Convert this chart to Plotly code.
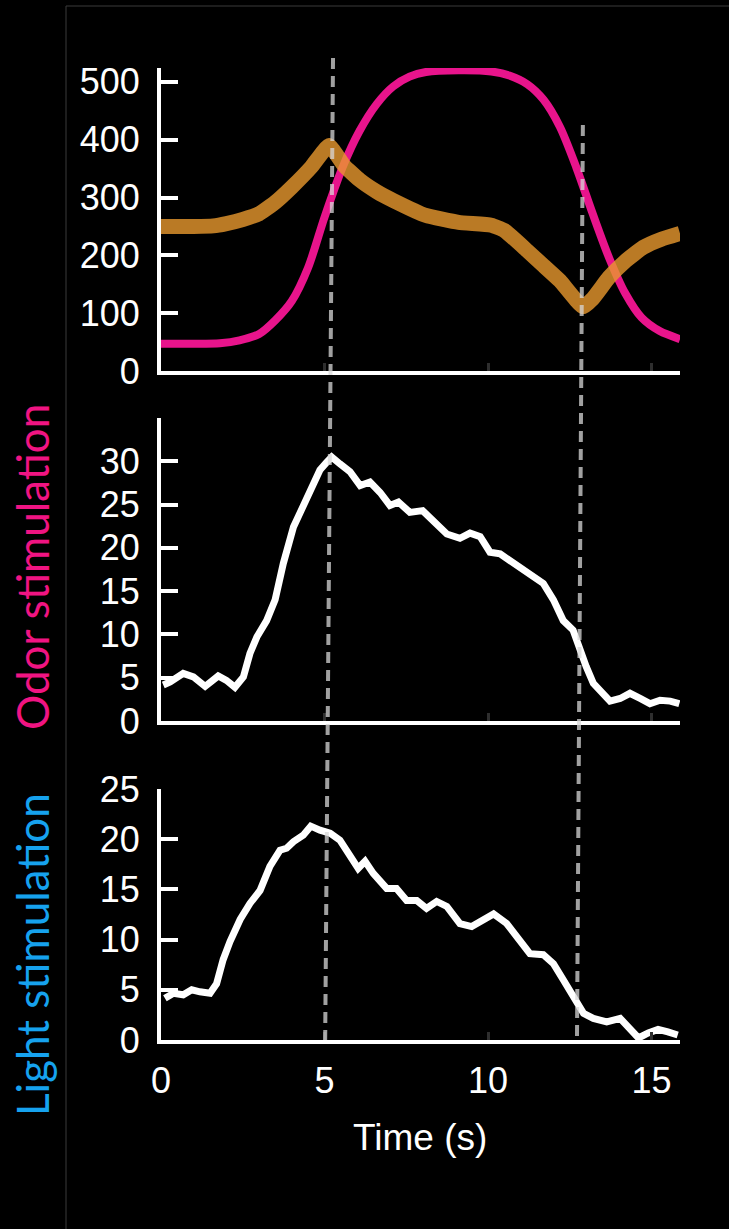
import plotly.graph_objects as go

# ---------------- data ----------------
# Top panel: stimulus traces
mag_t = [0.0, 1.0, 1.8, 2.4, 3.0, 3.5, 4.0, 4.5, 5.0, 5.55, 6.07, 6.6, 7.1, 7.6, 8.1, 9.1,
         10.1, 10.65, 11.2, 11.7, 12.2, 12.7, 13.2, 13.7, 14.2, 14.7, 15.25, 15.87]
mag_v = [47, 47, 48, 53, 64, 88, 121, 179, 266, 352, 415, 462, 492, 509, 517, 520,
         518, 511, 496, 469, 422, 352, 272, 196, 134, 92, 69, 55]

org_t = [0.0, 1.0, 1.6, 2.0, 2.5, 3.0, 3.5, 4.0, 4.6, 5.14, 5.6, 6.08, 6.6, 7.1, 8.1, 9.1,
         10.1, 10.5, 11.2, 11.7, 12.2, 12.9, 13.2, 13.7, 14.2, 14.75, 15.3, 15.87]
org_v = [250, 250, 251, 255, 262, 272, 292, 318, 353, 390, 355, 330, 310, 295, 269, 257,
         252, 243, 208, 182, 156, 111, 125, 162, 190, 214, 228, 238]

# Middle panel: odor stimulation response
odor_t = [0.07, 0.28, 0.68, 0.99, 1.35, 1.75, 2.0, 2.26, 2.52, 2.72, 2.93, 3.23, 3.49, 3.74,
          4.05, 4.35, 4.56, 4.86, 5.07, 5.22, 5.47, 5.78, 6.09, 6.39, 6.7, 7.0, 7.26, 7.61,
          8.0, 8.33, 8.74, 9.14, 9.45, 9.76, 10.06, 10.37, 10.78, 11.28, 11.69, 12.0, 12.3,
          12.6, 12.8, 13.0, 13.22, 13.43, 13.73, 14.04, 14.34, 14.65, 14.95, 15.26, 15.57, 15.85]
odor_v = [4.15, 4.5, 5.5, 5.1, 4.0, 5.2, 4.7, 3.9, 5.1, 7.8, 9.7, 11.6, 14.0, 18.2,
          22.4, 24.7, 26.3, 29.0, 29.9, 30.5, 29.7, 28.8, 27.2, 27.6, 26.4, 24.9, 25.3, 24.1,
          24.3, 23.2, 21.6, 21.1, 21.7, 21.3, 19.5, 19.3, 18.2, 17.0, 15.9, 14.0, 11.6,
          10.5, 8.2, 6.3, 4.35, 3.6, 2.3, 2.6, 3.2, 2.6, 2.0, 2.4, 2.3, 2.0]

# Bottom panel: light stimulation response
light_t = [0.12, 0.38, 0.68, 0.94, 1.19, 1.5, 1.7, 1.9, 2.11, 2.42, 2.72, 3.03, 3.33, 3.64,
           3.84, 4.05, 4.35, 4.58, 4.86, 5.17, 5.47, 5.78, 6.03, 6.24, 6.49, 6.9, 7.2, 7.51,
           7.82, 8.12, 8.43, 8.74, 9.14, 9.5, 9.86, 10.17, 10.57, 10.98, 11.28, 11.69, 12.0,
           12.3, 12.6, 12.92, 13.22, 13.63, 14.04, 14.34, 14.6, 14.9, 15.2, 15.5, 15.8]
light_v = [4.15, 4.65, 4.5, 5.0, 4.8, 4.65, 5.6, 8.0, 9.8, 12.0, 13.6, 14.9, 17.3, 18.9,
           19.1, 19.75, 20.4, 21.3, 20.9, 20.6, 19.9, 18.3, 17.1, 17.8, 16.6, 15.1, 15.1, 13.9,
           13.9, 13.1, 13.8, 13.3, 11.6, 11.3, 12.0, 12.55, 11.6, 10.0, 8.6, 8.5, 7.6,
           6.0, 4.5, 2.65, 2.15, 1.8, 2.15, 1.0, 0.2, 0.7, 1.05, 0.8, 0.5]

# Event (dashed) lines: time at top end and at bottom end
event_top_t = [5.26, 12.9]
event_bottom_t = [5.02, 12.72]

x_ticks = [0, 5, 10, 15]
top_ticks = [0, 100, 200, 300, 400, 500]
mid_ticks = [0, 5, 10, 15, 20, 25, 30]
bot_ticks = [0, 5, 10, 15, 20, 25]

# ---------------- figure ----------------
W, H = 729, 1229


def px_x(p):
    return p / W


def px_y(p):
    return 1 - p / H


fig = go.Figure()

fig.add_trace(go.Scatter(x=mag_t, y=mag_v, mode="lines", xaxis="x", yaxis="y",
                         line=dict(color="#e8148c", width=8, shape="spline", smoothing=0.8),
                         showlegend=False, hoverinfo="skip"))
fig.add_trace(go.Scatter(x=org_t, y=org_v, mode="lines", xaxis="x", yaxis="y",
                         line=dict(color="rgba(232,152,46,0.8)", width=15, shape="spline", smoothing=0.4),
                         showlegend=False, hoverinfo="skip"))
fig.add_trace(go.Scatter(x=odor_t, y=odor_v, mode="lines", xaxis="x2", yaxis="y2",
                         line=dict(color="white", width=7),
                         showlegend=False, hoverinfo="skip"))
fig.add_trace(go.Scatter(x=light_t, y=light_v, mode="lines", xaxis="x3", yaxis="y3",
                         line=dict(color="white", width=7),
                         showlegend=False, hoverinfo="skip"))

tick_font = dict(family="Liberation Sans, Arial, sans-serif", size=36, color="white")
x_dom = [px_x(161), px_x(680)]
x_range = [0, 15.87]


def xaxis(anchor, labels):
    return dict(domain=x_dom, range=x_range, anchor=anchor, showline=True,
                linecolor="white", linewidth=4, showgrid=False, zeroline=False,
                ticks="inside", tickvals=x_ticks, ticklen=8, tickwidth=3, tickcolor="#2e2e2e",
                showticklabels=labels, tickfont=tick_font, ticklabelstandoff=6, fixedrange=True,
                automargin=False)


def yaxis(anchor, dom, rng, tv):
    return dict(domain=dom, range=rng, anchor=anchor, showline=True,
                linecolor="white", linewidth=4, showgrid=False, zeroline=False,
                ticks="inside", tickvals=tv, ticklen=17, tickwidth=4, tickcolor="white",
                tickfont=tick_font, ticklabelstandoff=10, fixedrange=True, automargin=False)


shapes = []
# dashed event lines
for tt, tb, ytop in zip(event_top_t, event_bottom_t, [px_y(58), px_y(125)]):
    shapes.append(dict(type="line", xref="x", yref="paper", x0=tt, y0=ytop, x1=tb, y1=px_y(1040),
                       line=dict(color="rgba(215,215,215,0.75)", width=4, dash="11px,7px"),
                       layer="above"))
# faint frame
shapes.append(dict(type="line", xref="paper", yref="paper", x0=px_x(66), x1=px_x(66),
                   y0=0, y1=px_y(6), line=dict(color="#3a3a3a", width=1)))
shapes.append(dict(type="line", xref="paper", yref="paper", x0=px_x(66), x1=1,
                   y0=px_y(6), y1=px_y(6), line=dict(color="#3a3a3a", width=1)))

annotations = [
    dict(text="Time (s)", xref="paper", yref="paper", x=px_x(420), y=px_y(1137),
         showarrow=False, xanchor="center", yanchor="middle",
         font=dict(family="Liberation Sans, Arial, sans-serif", size=37, color="white")),
    dict(text="Odor stimulation", xref="paper", yref="paper", x=px_x(32), y=px_y(567),
         showarrow=False, textangle=-90, xanchor="center", yanchor="middle",
         font=dict(family="Lato, sans-serif", size=44, color="#f01482")),
    dict(text="Light stimulation", xref="paper", yref="paper", x=px_x(32), y=px_y(955),
         showarrow=False, textangle=-90, xanchor="center", yanchor="middle",
         font=dict(family="Lato, sans-serif", size=44, color="#16a2ee")),
]

fig.update_layout(
    width=W, height=H, autosize=False,
    margin=dict(l=0, r=0, t=0, b=0, pad=0, autoexpand=False),
    paper_bgcolor="black", plot_bgcolor="black",
    xaxis=xaxis("y", False),
    xaxis2=xaxis("y2", False),
    xaxis3=xaxis("y3", True),
    yaxis=yaxis("x", [px_y(371), px_y(68)], [0, 524], top_ticks),
    yaxis2=yaxis("x2", [px_y(721), px_y(418)], [0, 35], mid_ticks),
    yaxis3=yaxis("x3", [px_y(1040), px_y(789)], [0, 25], bot_ticks),
    shapes=shapes, annotations=annotations, showlegend=False,
)

fig.write_html(
    "out.html",
    config={"displayModeBar": False, "responsive": False},
    post_script="document.body.style.margin='0';document.body.style.overflow='hidden';"
                "document.body.style.background='black';",
)
